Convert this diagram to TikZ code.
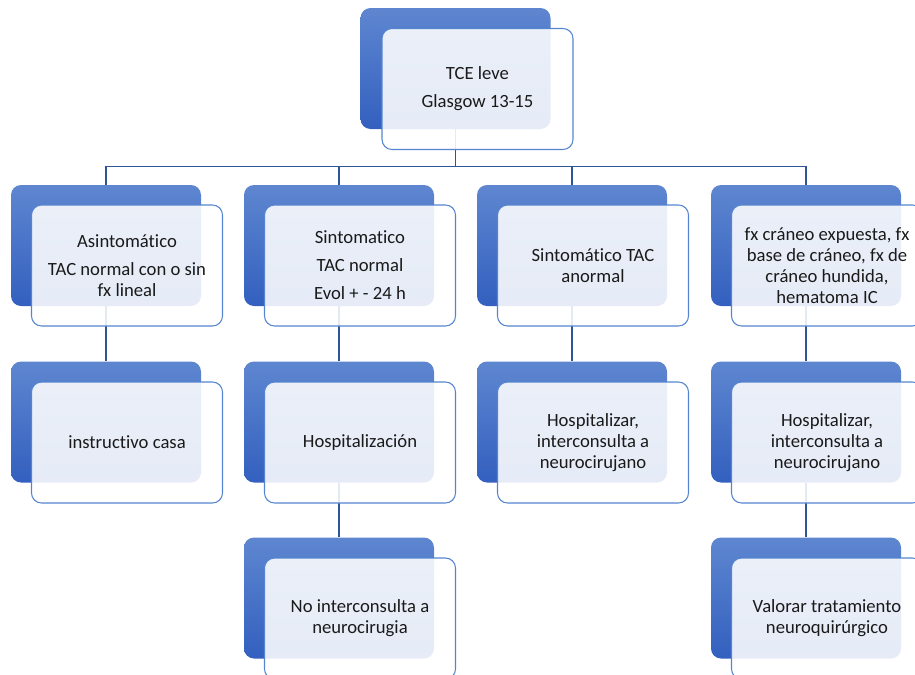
\documentclass[tikz,border=0pt]{standalone}
\usepackage{fontspec}
\setmainfont{Carlito}[Ligatures=NoCommon]
\definecolor{bktop}{HTML}{5E86D0}
\definecolor{bkbot}{HTML}{3360BF}
\definecolor{frline}{HTML}{5585D0}
\definecolor{conncol}{HTML}{2F5597}
\definecolor{txt}{HTML}{1A1A1A}
\begin{document}
\begin{tikzpicture}[x=0.75pt,y=-0.75pt,
 backbox/.style={rounded corners=7.5pt, minimum width=142.5pt, minimum height=90.75pt, inner sep=0pt, top color=bktop, bottom color=bkbot, draw=none},
 frontbox/.style={rounded corners=7.5pt, minimum width=143.25pt, minimum height=90.75pt, inner sep=0pt, draw=frline, line width=0.8pt, fill=white, fill opacity=0.88, text opacity=1, align=center, font=\fontsize{14}{15.75}\selectfont, text=txt},
 conn/.style={draw=conncol, line width=1pt}]
\path[use as bounding box, clip] (0,0) rectangle (915,675);
% back boxes
\node[backbox] (t) at (455.5,68.5) {};
\node[backbox] (b1) at (106,245.5) {};
\node[backbox] (b2) at (339,245.5) {};
\node[backbox] (b3) at (572,245.5) {};
\node[backbox] (b4) at (806,245.5) {};
\node[backbox] (c1) at (106,422) {};
\node[backbox] (c2) at (339,422) {};
\node[backbox] (c3) at (572,422) {};
\node[backbox] (c4) at (806,422) {};
\node[backbox] (d2) at (339,598) {};
\node[backbox] (d4) at (806,598) {};
% connectors
\coordinate (hub) at (455.5,166.5);
\draw[conn] (t.south) -- (hub);
\draw[conn] (hub) -| (b1.north);
\draw[conn] (hub) -| (b2.north);
\draw[conn] (hub) -| (b3.north);
\draw[conn] (hub) -| (b4.north);
\draw[conn] (b1.south) -- (c1.north);
\draw[conn] (b2.south) -- (c2.north);
\draw[conn] (b3.south) -- (c3.north);
\draw[conn] (b4.south) -- (c4.north);
\draw[conn] (c2.south) -- (d2.north);
\draw[conn] (c4.south) -- (d4.north);
% front boxes
\node[frontbox] (ft) at (477.5,89) {TCE leve\\[5.25pt]Glasgow 13-15};
\node[frontbox] (f1) at (127,265.5) {Asintomático\\[5.25pt]TAC normal con o sin\\fx lineal};
\node[frontbox] (f2) at (360,265.5) {Sintomatico\\[5.25pt]TAC normal\\[5.25pt]Evol + - 24 h};
\node[frontbox] (f3) at (593,265.5) {Sintomático TAC\\anormal};
\node[frontbox] (f4) at (827,265.5) {fx cráneo expuesta, fx\\base de cráneo, fx de\\cráneo hundida,\\hematoma IC};
\node[frontbox] (g1) at (127,442.5) {instructivo casa};
\node[frontbox] (g2) at (360,442.5) {Hospitalización};
\node[frontbox] (g3) at (593,442.5) {Hospitalizar,\\interconsulta a\\neurocirujano};
\node[frontbox] (g4) at (827,442.5) {Hospitalizar,\\interconsulta a\\neurocirujano};
\node[frontbox] (h2) at (360,618.5) {No interconsulta a\\neurocirugia};
\node[frontbox] (h4) at (827,618.5) {Valorar tratamiento\\neuroquirúrgico};
\end{tikzpicture}
\end{document}
